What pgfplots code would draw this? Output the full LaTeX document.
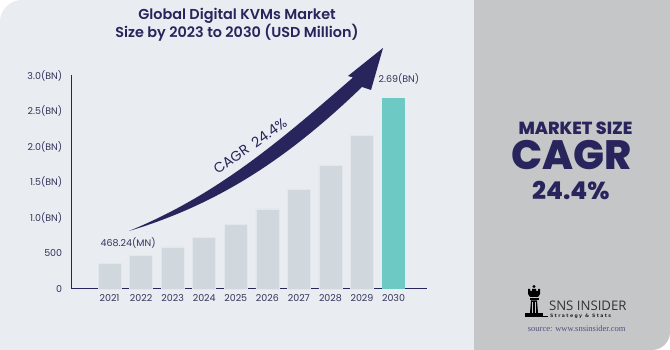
\documentclass[border=0pt]{standalone}
\usepackage{pgfplots}
\pgfplotsset{compat=1.18}
\usepackage{fontspec}
\setmainfont{Poppins}
\newfontfamily\semib{Poppins SemiBold}
\newfontfamily\xbold{Poppins ExtraBold}
\newfontfamily\opensans{Open Sans}
\newfontfamily\lserif{Liberation Serif}
\newfontfamily\tinyb[LetterSpace=30]{DejaVu Sans Bold}
\definecolor{navy}{RGB}{40,36,92}
\definecolor{panel}{RGB}{233,236,241}
\definecolor{side}{RGB}{197,198,200}
\definecolor{bargray}{RGB}{208,215,221}
\definecolor{tealbar}{RGB}{108,201,196}
\definecolor{ticktext}{RGB}{52,52,90}
\begin{document}
\begin{tikzpicture}[x=1pt,y=1pt]
\fill[white] (0,0) rectangle (670,350);
\fill[panel] (0,0) -- (0,175) [rounded corners=22pt] -- (0,350) -- (300,350) [sharp corners] -- (474,350) -- (474,0) -- cycle;
\fill[side] (474,350) -- (670,350) -- (670,175) [rounded corners=18pt] -- (670,0) -- (600,0) [sharp corners] -- (474,0) -- cycle;
\begin{axis}[at={(71.7pt,61pt)}, anchor=south west, scale only axis,
  width=355.3pt, height=214pt,
  xmin=-1.2, xmax=10.06, ymin=0, ymax=3010,
  axis x line*=bottom, axis y line*=left,
  axis line style={navy, line width=1pt},
  ytick={0,500,1000,1500,2000,2500,3000},
  yticklabels={0,500,1.0(BN),1.5(BN),2.0(BN),2.5(BN),3.0(BN)},
  xtick={0,1,2,3,4,5,6,7,8,9},
  xticklabels={2021,2022,2023,2024,2025,2026,2027,2028,2029,2030},
  major tick length=0,
  tick label style={font=\fontsize{9.5}{10}\selectfont, text=ticktext},
  yticklabel style={xshift=-6pt},
  xticklabel style={yshift=-2pt},
  ybar, bar width=23pt, bar shift=0pt, clip=false]
\addplot[fill=bargray, draw=bargray!60!white, line width=0.6pt] coordinates {(0,356)(1,468.24)(2,591)(3,722)(4,905)(5,1127)(6,1399)(7,1737)(8,2164)};
\addplot[fill=tealbar, draw=none] coordinates {(9,2690)};
\node[font=\fontsize{9.5}{10}\selectfont, text=ticktext] at (axis cs:0.59,648) {468.24(MN)};
\node[font=\fontsize{9.5}{10}\selectfont, text=ticktext] at (axis cs:9.17,2957) {2.69(BN)};
\end{axis}
% arrow
\fill[navy] (129,119) .. controls (218,155.5) and (281,210) .. (353,272.5)
  -- (348,274) -- (383,302) -- (371,260) -- (362,263)
  .. controls (291,194.5) and (221,146.5) .. (129,119) -- cycle;
\node[rotate=35, font=\fontsize{14}{15}\selectfont, text=navy] at (250,204) {CAGR\hspace{3pt} 24.4\%};
% title
\node[font=\semib\fontsize{14.4}{17}\selectfont, text=navy, align=center] at (237,325.5) {Global Digital KVMs Market\\Size by 2023 to 2030 (USD Million)};
% right panel
\node[font=\xbold\fontsize{17.5}{18}\selectfont, text=navy] at (575.5,221.3) {MARKET SIZE};
\node[font=\xbold\fontsize{41}{42}\selectfont, text=navy] at (571.7,194.5) {CAGR};
\node[font=\xbold\fontsize{24.5}{26}\selectfont, text=navy] at (570.8,159.7) {24.4\%};
% logo
\fill[black] (534,63.5) circle (1.6);
\fill[black] (528,61) -- (528,56) -- (530,53) -- (538,53) -- (540,56) -- (540,61) -- (538,61) -- (538,59) -- (536,59) -- (536,61) -- (532,61) -- (532,59) -- (530,59) -- (530,61) -- cycle;
\fill[black] (529.5,52) rectangle (538.5,49.5);
\fill[black] (531,49.5) -- (530,37) -- (538,37) -- (537,49.5) -- cycle;
\draw[side, line width=0.6pt] (532.5,48) -- (532.5,37) (535.5,48) -- (535.5,37);
\fill[black] (525,37) rectangle (543,34);
\fill[black] (525,34) rectangle (548,32.8);
\node[anchor=west, font=\opensans\fontsize{13.2}{14}\selectfont, text=black!80] at (545.5,44.7) {SNS INSIDER};
\node[anchor=west, font=\tinyb\fontsize{4.6}{5}\selectfont, text=black!85] at (546.5,33.5) {Strategy \& Stats};
\node[font=\lserif\fontsize{8.5}{9}\selectfont, text=navy!80] at (576.7,21) {source: www.snsinsider.com};
\end{tikzpicture}
\end{document}
